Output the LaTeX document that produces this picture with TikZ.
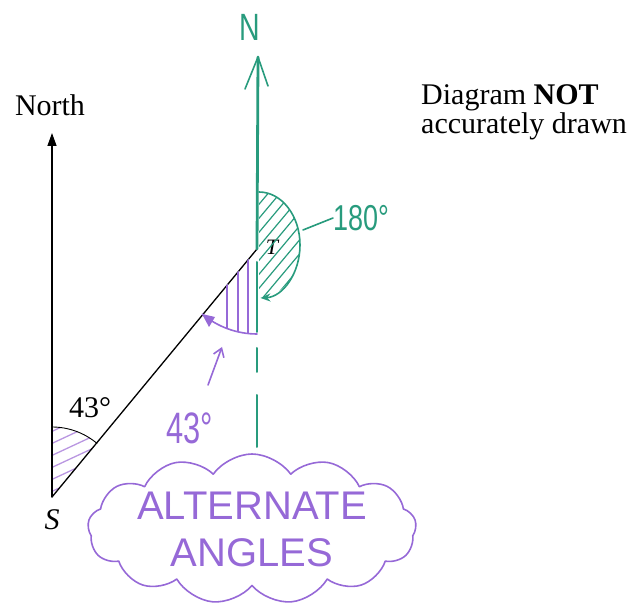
\documentclass[tikz,border=0pt]{standalone}
\usepackage{fontspec}
\setmainfont{Liberation Serif}
\newfontfamily\handfont{Liberation Sans}
\usetikzlibrary{shapes.symbols,arrows.meta}
\definecolor{penGreen}{RGB}{40,155,125}
\definecolor{penPurple}{RGB}{150,105,215}
\definecolor{hatchPurple}{RGB}{185,150,225}
\begin{document}
\begin{tikzpicture}[x=1pt,y=1pt,line cap=round,line join=round,
  printed/.style={font=\fontsize{30}{29}\selectfont,inner sep=0pt},
  hand/.style={font=\handfont\fontsize{#1}{#1}\selectfont,inner sep=0pt},
  greenpen/.style={draw=penGreen,line width=1.6pt},
  purplepen/.style={draw=penPurple,line width=1.6pt}]
\useasboundingbox (0,0) rectangle (644,607);

% points
\coordinate (S) at (52,110);
\coordinate (T) at (257,358);
\coordinate (Ntip) at (52,474);
\coordinate (Gtip) at (258,550);
\coordinate (Gbot) at (257,345);
\coordinate (Gend) at (257,160);

% hatch of the 43 degree angle at S
\begin{scope}
\clip (S) -- ++(90:70) arc[start angle=90,end angle=50,radius=70] -- cycle;
\foreach \i in {-2,...,7}
  \draw[hatchPurple,line width=1.3pt] (40,110+\i*12) -- ++(25:90);
\end{scope}
\draw[line width=0.9pt] ([shift={(90:70)}]S) arc[start angle=90,end angle=50,radius=70];

% North arrow and black line
\draw[line width=1.3pt,-{Triangle[length=13pt,width=9pt]}] (S) -- (Ntip);
\node[printed] (north) at (50,502) {North};
\draw[line width=1.3pt] (S) -- (T);
\node[printed,font=\itshape\fontsize{30}{30}\selectfont] (slab) at (52,87) {S};
\node[printed] (ang43) at (90,199) {43°};
\node[printed,font=\itshape\fontsize{22}{22}\selectfont] (tlab) at (272,360) {T};

% note
\node[printed,align=left,anchor=west] (note) at (421,495) {Diagram \textbf{NOT}\\accurately drawn};

% purple alternate angle at T
\begin{scope}
\clip (T) -- ++(230:85) arc[start angle=230,end angle=270,radius=85] -- cycle;
\foreach \x in {227,238,248}
  \draw[penPurple,line width=1.3pt] (\x,250) -- (\x,360);
\end{scope}
\draw[purplepen] ([shift={(230:85)}]T) arc[start angle=230,end angle=270,radius=85];
\fill[penPurple] (202,293) -- (215,290) -- (209,280) -- cycle;
\coordinate (pa) at (208,222);
\coordinate (pb) at (222,260);
\draw[purplepen,-{Straight Barb[length=8pt,width=11pt]}] (pa) -- (pb);
\node[hand=44,text=penPurple,xscale=0.7] (ang43b) at (190,179) {43°};

% green north line, 180 angle
\begin{scope}
\clip (259,415) arc[start angle=90,end angle=-90,x radius=41,y radius=53] -- cycle;
\foreach \i in {-6,...,6}
  \draw[penGreen,line width=1.2pt] (250,350+\i*14) -- ++(50:80);
\end{scope}
\draw[greenpen,-{Stealth[length=10pt,width=8pt]}] (259,415) arc[start angle=90,end angle=-88,x radius=41,y radius=53];
\draw[draw=penGreen,line width=2.8pt] (T) -- (Gtip);
\draw[greenpen] (245,518) -- (Gtip) -- (268,521);
\node[hand=38,text=penGreen,xscale=0.75] (nlab) at (250,580) {N};
\draw[draw=penGreen,line width=2pt,dash pattern=on 70pt off 16pt on 24pt off 23pt on 52pt] (Gbot) -- (Gend);
\node[hand=36,text=penGreen,xscale=0.75,anchor=west] (a180) at (333,389) {180°};
\draw[greenpen] (303,377) -- (a180.west);

% cloud
\node[cloud,cloud puffs=13,cloud puff arc=110,draw=penPurple,line width=1.6pt,
  cloud ignores aspect,minimum width=287pt,minimum height=150pt,
  hand=40,text=penPurple,align=center] (cloud) at (252,78)
  {ALTERNATE\\[7pt]ANGLES};
\end{tikzpicture}
\end{document}
